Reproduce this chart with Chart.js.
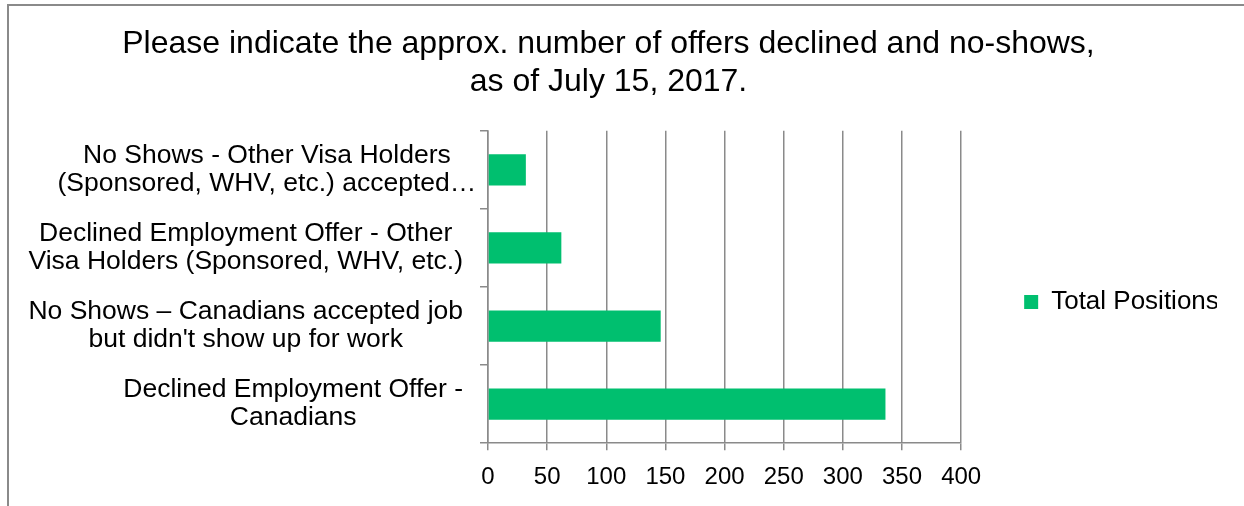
<!DOCTYPE html>
<html>
<head>
<meta charset="utf-8">
<script src="https://cdn.jsdelivr.net/npm/chart.js@4/dist/chart.umd.min.js"></script>
<style>
    html, body { margin: 0; padding: 0; background: #fff; overflow: hidden; }
    #wrap { position: relative; width: 1244px; height: 506px; }
    #frame {
        position: absolute; left: 7px; top: 4px; width: 2000px; height: 1000px;
        border-left: 2px solid #8a8a8a; border-top: 2px solid #8a8a8a;
    }
    #chart { position: absolute; left: 0; top: 0; }
</style>
</head>
<body>
<div id="wrap">
    <div id="frame"></div>
    <canvas id="chart" width="1244" height="506"></canvas>
</div>
<script>
// Chart data
const titleLines = ['Please indicate the approx. number of offers declined and no-shows,', 'as of July 15, 2017.'];
const categories = [
    ['No Shows - Other Visa Holders', '(Sponsored, WHV, etc.) accepted…'],
    ['Declined Employment Offer - Other', 'Visa Holders (Sponsored, WHV, etc.)'],
    ['No Shows \u2013 Canadians accepted job', "but didn't show up for work"],
    ['Declined Employment Offer -', 'Canadians']
];
const seriesName = 'Total Positions';
const totalPositions = [32, 62, 146, 336];
const xMin = 0;
const xMax = 400;
const xStep = 50;

const barColor = '#00BF6F';
const axisGray = '#8a8a8a';
const fontFamily = "'Liberation Sans', Arial, sans-serif";

Chart.defaults.font.family = fontFamily;
Chart.defaults.color = '#000';

// Draw the category labels centered line by line, like Excel does
const categoryLabels = {
    id: 'categoryLabels',
    afterDraw(chart) {
        const scale = chart.scales.y;
        const ctx = chart.ctx;
        const lineH = 28;
        ctx.save();
        ctx.font = '26.5px ' + fontFamily;
        ctx.fillStyle = '#000';
        ctx.textAlign = 'center';
        ctx.textBaseline = 'middle';
        categories.forEach((lines, i) => {
            const y = scale.getPixelForValue(i);
            const maxW = Math.max(...lines.map(l => ctx.measureText(l.replace(/…$/, '')).width));
            const cx = scale.right - 25 - maxW / 2;
            const y0 = y - (lines.length - 1) * lineH / 2;
            lines.forEach((l, j) => ctx.fillText(l, cx, y0 + j * lineH));
        });
        ctx.restore();
    }
};

new Chart(document.getElementById('chart').getContext('2d'), {
    type: 'bar',
    data: {
        labels: categories,
        datasets: [{
            label: seriesName,
            data: totalPositions,
            backgroundColor: barColor,
            borderWidth: 0,
            barPercentage: 0.4,
            categoryPercentage: 1.0
        }]
    },
    options: {
        indexAxis: 'y',
        responsive: false,
        animation: false,
        layout: { padding: { left: 0, top: 0, right: 27, bottom: 1 } },
        scales: {
            x: {
                min: xMin,
                max: xMax,
                ticks: { stepSize: xStep, padding: 13, font: { size: 24 }, color: '#000' },
                grid: { color: axisGray, lineWidth: 1.5, tickLength: 7 },
                border: { color: axisGray, width: 1.5 }
            },
            y: {
                offset: true,
                ticks: { display: false },
                grid: { offset: true, drawOnChartArea: false, color: axisGray, lineWidth: 1.5, tickLength: 8 },
                border: { color: axisGray, width: 1.5 },
                afterFit: s => { s.width = 488; }
            },
            // spacer between plot and legend
            y2: {
                type: 'category',
                position: 'right',
                labels: categories,
                ticks: { display: false },
                grid: { display: false },
                border: { display: false },
                afterFit: s => { s.width = 53; }
            }
        },
        plugins: {
            title: {
                display: true,
                text: titleLines,
                color: '#000',
                font: { size: 32, weight: 'normal', lineHeight: 1.2 },
                padding: { top: 25, bottom: 29 }
            },
            legend: {
                position: 'right',
                // empty legend title only pushes the item down
                title: { display: true, text: '', font: { size: 11, lineHeight: 1 }, padding: 44 },
                labels: {
                    boxWidth: 14,
                    boxHeight: 14,
                    padding: 10,
                    color: '#000',
                    font: { size: 26 }
                }
            },
            tooltip: { enabled: false }
        }
    },
    plugins: [categoryLabels]
});
</script>
</body>
</html>
